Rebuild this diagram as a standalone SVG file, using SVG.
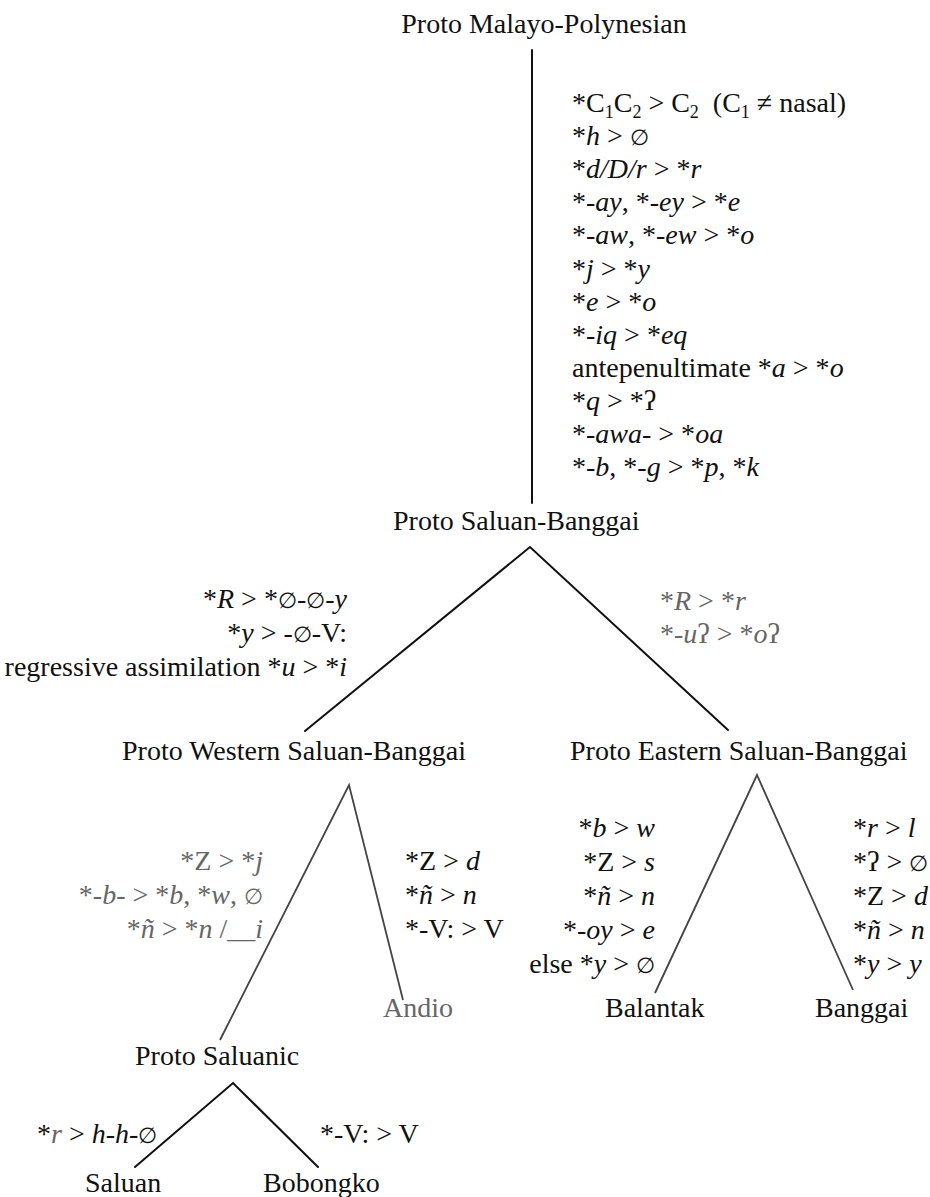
<svg xmlns="http://www.w3.org/2000/svg" width="930" height="1197" viewBox="0 0 930 1197">
<style>
text{font-family:"Liberation Serif","DejaVu Serif",serif;font-size:28px;fill:#111}
.i{font-style:italic}
.g{fill:#666}
.sub{font-size:18px}
.z{font-size:22px}
.end{text-anchor:end}
.mid{text-anchor:middle}
.ln{stroke:#111;stroke-width:2;fill:none;stroke-linecap:round}
.lg{stroke:#444;stroke-width:1.8;fill:none}
</style>
<rect width="930" height="1197" fill="#fff"/>
<g id="connectors">
<line class="ln" x1="532" y1="50" x2="532" y2="503"/>
<polyline class="ln" points="305,731 530,547 728,730"/>
<polyline class="lg" points="220,1040 349,785 403,1000"/>
<polyline class="lg" points="655,993 757,775 853,990"/>
<polyline class="ln" points="135,1167 233,1083 318,1167"/>
</g>
<g id="node-pmp"><text class="mid" x="544" y="33">Proto Malayo-Polynesian</text></g>
<g id="node-psb"><text x="393" y="530">Proto Saluan-Banggai</text></g>
<g id="node-pwsb"><text x="122" y="760">Proto Western Saluan-Banggai</text></g>
<g id="node-pesb"><text x="570" y="760">Proto Eastern Saluan-Banggai</text></g>
<g id="node-andio"><text class="g" x="383" y="1017">Andio</text></g>
<g id="node-balantak"><text x="605" y="1017">Balantak</text></g>
<g id="node-banggai"><text x="815" y="1017">Banggai</text></g>
<g id="node-psal"><text x="135" y="1065">Proto Saluanic</text></g>
<g id="node-saluan"><text x="85" y="1192">Saluan</text></g>
<g id="node-bobongko"><text x="263" y="1192">Bobongko</text></g>
<g id="labels-pmp">
<text x="572" y="112">*C<tspan class="sub" dy="6">1</tspan><tspan dy="-6">C</tspan><tspan class="sub" dy="6">2</tspan><tspan dy="-6"> &gt; C</tspan><tspan class="sub" dy="6">2</tspan><tspan dy="-6">&#160; (C</tspan><tspan class="sub" dy="6">1</tspan><tspan dy="-6"> ≠ nasal)</tspan></text>
<text x="572" y="145">*<tspan class="i">h</tspan> &gt; <tspan class="z">∅</tspan></text>
<text x="572" y="178">*<tspan class="i">d/D/r</tspan> &gt; *<tspan class="i">r</tspan></text>
<text x="572" y="211">*<tspan class="i">-ay</tspan>, *<tspan class="i">-ey</tspan> &gt; *<tspan class="i">e</tspan></text>
<text x="572" y="244">*<tspan class="i">-aw</tspan>, *<tspan class="i">-ew</tspan> &gt; *<tspan class="i">o</tspan></text>
<text x="572" y="278">*<tspan class="i">j</tspan> &gt; *<tspan class="i">y</tspan></text>
<text x="572" y="311">*<tspan class="i">e</tspan> &gt; *<tspan class="i">o</tspan></text>
<text x="572" y="344">*<tspan class="i">-iq</tspan> &gt; *<tspan class="i">eq</tspan></text>
<text x="572" y="377">antepenultimate *<tspan class="i">a</tspan> &gt; *<tspan class="i">o</tspan></text>
<text x="572" y="410">*<tspan class="i">q</tspan> &gt; *ʔ</text>
<text x="572" y="443">*<tspan class="i">-awa-</tspan> &gt; *<tspan class="i">oa</tspan></text>
<text x="572" y="476">*<tspan class="i">-b</tspan>, *<tspan class="i">-g</tspan> &gt; *<tspan class="i">p</tspan>, *<tspan class="i">k</tspan></text>
</g>
<g id="labels-psb">
<text class="end" x="347" y="608">*<tspan class="i">R</tspan> &gt; *<tspan class="z">∅</tspan>-<tspan class="z">∅</tspan>-<tspan class="i">y</tspan></text>
<text class="end" x="347" y="642">*<tspan class="i">y</tspan> &gt; -<tspan class="z">∅</tspan>-V:</text>
<text class="end" x="347" y="676">regressive assimilation *<tspan class="i">u</tspan> &gt; *<tspan class="i">i</tspan></text>
<text class="g" x="660" y="610">*<tspan class="i">R</tspan> &gt; *<tspan class="i">r</tspan></text>
<text class="g" x="660" y="643">*<tspan class="i">-u</tspan>ʔ &gt; *<tspan class="i">o</tspan>ʔ</text>
</g>
<g id="labels-pwsb">
<text class="end g" x="263" y="870">*Z &gt; *<tspan class="i">j</tspan></text>
<text class="end g" x="263" y="904">*<tspan class="i">-b-</tspan> &gt; *<tspan class="i">b</tspan>, *<tspan class="i">w</tspan>, <tspan class="z">∅</tspan></text>
<text class="end g" x="263" y="938">*<tspan class="i">ñ</tspan> &gt; *<tspan class="i">n</tspan> /__<tspan class="i">i</tspan></text>
<text x="405" y="870">*Z &gt; <tspan class="i">d</tspan></text>
<text x="405" y="904">*<tspan class="i">ñ</tspan> &gt; <tspan class="i">n</tspan></text>
<text x="405" y="938">*-V: &gt; V</text>
</g>
<g id="labels-pesb">
<text class="end" x="655" y="837">*<tspan class="i">b</tspan> &gt; <tspan class="i">w</tspan></text>
<text class="end" x="655" y="871">*Z &gt; <tspan class="i">s</tspan></text>
<text class="end" x="655" y="905">*<tspan class="i">ñ</tspan> &gt; <tspan class="i">n</tspan></text>
<text class="end" x="655" y="939">*<tspan class="i">-oy</tspan> &gt; <tspan class="i">e</tspan></text>
<text class="end" x="655" y="973">else *<tspan class="i">y</tspan> &gt; <tspan class="z">∅</tspan></text>
<text x="853" y="837">*<tspan class="i">r</tspan> &gt; <tspan class="i">l</tspan></text>
<text x="853" y="871">*ʔ &gt; <tspan class="z">∅</tspan></text>
<text x="853" y="905">*Z &gt; <tspan class="i">d</tspan></text>
<text x="853" y="939">*<tspan class="i">ñ</tspan> &gt; <tspan class="i">n</tspan></text>
<text x="853" y="973">*<tspan class="i">y</tspan> &gt; <tspan class="i">y</tspan></text>
</g>
<g id="labels-psal">
<text x="37" y="1143">*<tspan class="i g">r</tspan> &gt; <tspan class="i">h-h-</tspan><tspan class="z">∅</tspan></text>
<text x="320" y="1143">*-V: &gt; V</text>
</g>
</svg>
